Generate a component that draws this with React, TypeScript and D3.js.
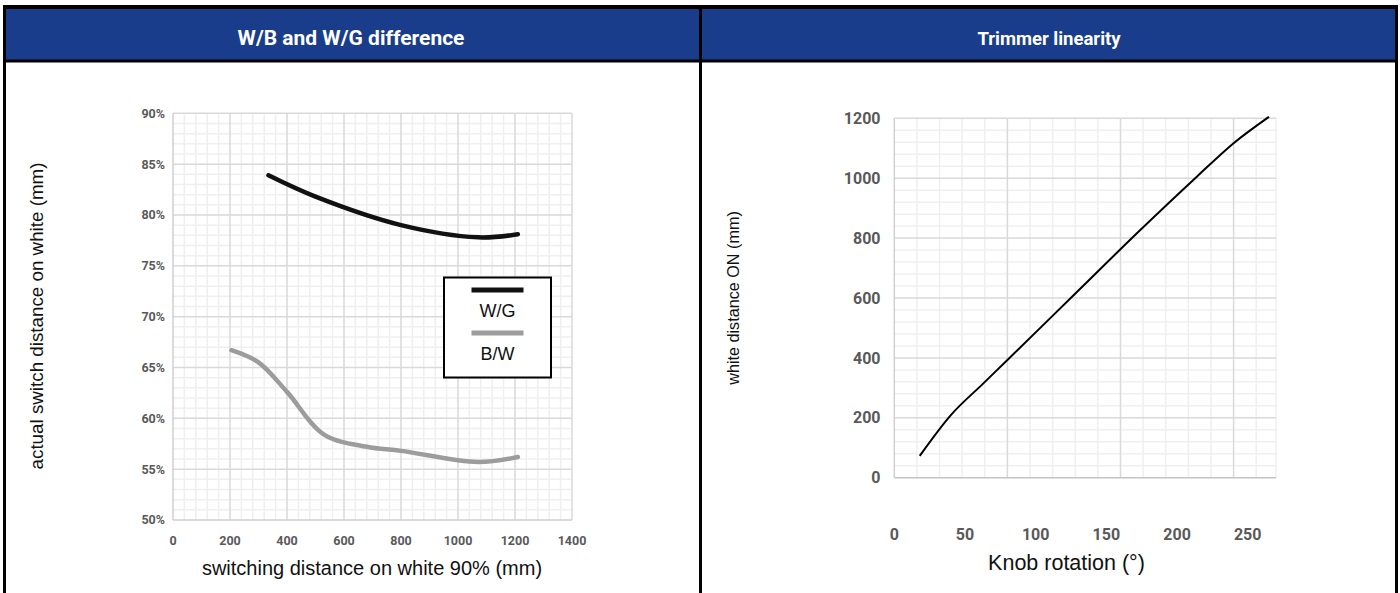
import React from "react";
import * as d3 from "d3";

// ---- Data ----
const leftTitle = "W/B and W/G difference";
const rightTitle = "Trimmer linearity";

const wgX = [335, 500, 800, 1070, 1210];
const wgY = [83.9, 81.8, 79.0, 77.8, 78.1];

const bwX = [205, 300, 400, 530, 680, 800, 1070, 1210];
const bwY = [66.7, 65.5, 62.6, 58.4, 57.2, 56.8, 55.7, 56.2];

const leftXTicks = [0, 200, 400, 600, 800, 1000, 1200, 1400];
const leftYTicks = [50, 55, 60, 65, 70, 75, 80, 85, 90];

const knob = [18, 40, 63, 80, 127, 174, 214, 240, 265];
const dist = [73, 209, 315, 393, 610, 827, 1005, 1117, 1205];

const rightXTicks = [0, 50, 100, 150, 200, 250];
const rightYTicks = [0, 200, 400, 600, 800, 1000, 1200];

const legendItems = [
  { label: "W/G", color: "#111111" },
  { label: "B/W", color: "#9c9c9c" },
];

const BLUE = "#193d8b";
const TICK = "#595959";
const MAJOR = "#d9d9d9";
const MINOR = "#efefef";
const tickFont = "Roboto, 'DejaVu Sans Condensed', sans-serif";
const labelFont = "'Liberation Sans', Arial, sans-serif";

export default function App() {
  const xL = d3.scaleLinear().domain([0, 1400]).range([173, 572]);
  const yL = d3.scaleLinear().domain([50, 90]).range([520, 113.3]);
  const xR = d3.scaleLinear().domain([0, 270]).range([894.3, 1276]);
  const yR = d3.scaleLinear().domain([0, 1200]).range([477.7, 118.3]);

  const lineL = d3
    .line<[number, number]>()
    .x((d) => xL(d[0]))
    .y((d) => yL(d[1]))
    .curve(d3.curveCatmullRom.alpha(0.5));
  const lineR = d3
    .line<[number, number]>()
    .x((d) => xR(d[0]))
    .y((d) => yR(d[1]))
    .curve(d3.curveMonotoneX);

  const wgPts = wgX.map((x, i) => [x, wgY[i]] as [number, number]);
  const bwPts = bwX.map((x, i) => [x, bwY[i]] as [number, number]);
  const kPts = knob.map((x, i) => [x, dist[i]] as [number, number]);

  const lxMinor = d3.range(0, 1400.1, 40).filter((v) => v % 200 !== 0);
  const lxMajor = d3.range(200, 1400.1, 200);
  const lyMinor = d3.range(50, 90.1, 1).filter((v) => v % 5 !== 0);
  const lyMajor = d3.range(55, 90.1, 5);

  const rxMinor = d3.range(16, 270, 16).filter((v) => v % 80 !== 0).concat([270]);
  const rxMajor = [80, 160, 240];
  const ryMinor = d3.range(40, 1200, 40).filter((v) => v % 200 !== 0);
  const ryMajor = d3.range(200, 1200.1, 200);

  return (
    <svg
      width={1400}
      height={593}
      style={{ position: "absolute", left: 0, top: 0, background: "#fff" }}
    >
      <rect x={0} y={0} width={1400} height={593} fill="#fff" />
      <rect x={3} y={5} width={1395} height={57.5} fill="#000" />
      <rect x={6} y={9} width={693} height={50.5} fill={BLUE} />
      <rect x={702} y={9} width={693} height={50.5} fill={BLUE} />
      <rect x={3} y={5} width={3} height={588} fill="#000" />
      <rect x={699} y={5} width={3} height={588} fill="#000" />
      <rect x={1395} y={5} width={3} height={588} fill="#000" />

      <text x={351} y={45} textAnchor="middle" fill="#fff" fontFamily={tickFont} fontWeight={700} fontSize={21}>
        {leftTitle}
      </text>
      <text x={1049} y={45} textAnchor="middle" fill="#fff" fontFamily={tickFont} fontWeight={700} fontSize={18.5}>
        {rightTitle}
      </text>

      {/* ---------- Left chart ---------- */}
      <g>
        {lxMinor.map((v) => (
          <line key={"lxm" + v} x1={xL(v)} x2={xL(v)} y1={yL(90)} y2={yL(50)} stroke={MINOR} strokeWidth={1.5} />
        ))}
        {lyMinor.map((v) => (
          <line key={"lym" + v} x1={xL(0)} x2={xL(1400)} y1={yL(v)} y2={yL(v)} stroke={MINOR} strokeWidth={1.5} />
        ))}
        {lxMajor.map((v) => (
          <line key={"lxM" + v} x1={xL(v)} x2={xL(v)} y1={yL(90)} y2={yL(50)} stroke={MAJOR} strokeWidth={1.5} />
        ))}
        {lyMajor.map((v) => (
          <line key={"lyM" + v} x1={xL(0)} x2={xL(1400)} y1={yL(v)} y2={yL(v)} stroke={MAJOR} strokeWidth={1.5} />
        ))}
        <line x1={xL(0)} x2={xL(0)} y1={yL(90)} y2={yL(50)} stroke="#cfcfcf" strokeWidth={1.5} />
        <line x1={xL(0)} x2={xL(1400)} y1={yL(50)} y2={yL(50)} stroke="#cfcfcf" strokeWidth={1.5} />

        {leftYTicks.map((v) => (
          <text key={"lyt" + v} x={165} y={yL(v)} dy="0.35em" textAnchor="end" fill={TICK}
            fontFamily={tickFont} fontWeight={700} fontSize={12.5}>
            {v + "%"}
          </text>
        ))}
        {leftXTicks.map((v) => (
          <text key={"lxt" + v} x={xL(v)} y={541} dy="0.35em" textAnchor="middle" fill={TICK}
            fontFamily={tickFont} fontWeight={700} fontSize={12.5}>
            {v}
          </text>
        ))}

        <path d={lineL(bwPts) || ""} fill="none" stroke="#9c9c9c" strokeWidth={4.5} strokeLinecap="round" />
        <path d={lineL(wgPts) || ""} fill="none" stroke="#111" strokeWidth={4.5} strokeLinecap="round" />

        <rect x={444} y={277.5} width={107} height={100} fill="#fff" stroke="#000" strokeWidth={2} />
        {legendItems.map((it, i) => (
          <g key={it.label}>
            <line x1={471.5} x2={523.5} y1={290 + i * 43} y2={290 + i * 43} stroke={it.color} strokeWidth={5} />
            <text x={497.5} y={316.5 + i * 43} textAnchor="middle" fill="#111" fontFamily={labelFont} fontSize={18}>
              {it.label}
            </text>
          </g>
        ))}

        <text x={372} y={575} textAnchor="middle" fill="#111" fontFamily={labelFont} fontSize={20}>
          switching distance on white 90% (mm)
        </text>
        <text transform="translate(43,316) rotate(-90)" textAnchor="middle" fill="#111" fontFamily={labelFont} fontSize={18.8}>
          actual switch distance on white (mm)
        </text>
      </g>

      {/* ---------- Right chart ---------- */}
      <g>
        {rxMinor.map((v) => (
          <line key={"rxm" + v} x1={xR(v)} x2={xR(v)} y1={yR(1200)} y2={yR(0)} stroke={MINOR} strokeWidth={1.5} />
        ))}
        {ryMinor.map((v) => (
          <line key={"rym" + v} x1={xR(0)} x2={xR(270)} y1={yR(v)} y2={yR(v)} stroke={MINOR} strokeWidth={1.5} />
        ))}
        {rxMajor.map((v) => (
          <line key={"rxM" + v} x1={xR(v)} x2={xR(v)} y1={yR(1200)} y2={yR(0)} stroke={MAJOR} strokeWidth={1.5} />
        ))}
        {ryMajor.map((v) => (
          <line key={"ryM" + v} x1={xR(0)} x2={xR(270)} y1={yR(v)} y2={yR(v)} stroke={MAJOR} strokeWidth={1.5} />
        ))}
        <line x1={xR(0)} x2={xR(0)} y1={yR(1200)} y2={yR(0)} stroke="#d0d0d0" strokeWidth={1.5} />
        <line x1={xR(0)} x2={xR(270)} y1={yR(0)} y2={yR(0)} stroke="#c4c4c4" strokeWidth={1.5} />

        {rightYTicks.map((v) => (
          <text key={"ryt" + v} x={880.5} y={yR(v)} dy="0.35em" textAnchor="end" fill={TICK}
            fontFamily={tickFont} fontWeight={700} fontSize={16}>
            {v}
          </text>
        ))}
        {rightXTicks.map((v) => (
          <text key={"rxt" + v} x={xR(v)} y={534} dy="0.35em" textAnchor="middle" fill={TICK}
            fontFamily={tickFont} fontWeight={700} fontSize={16}>
            {v}
          </text>
        ))}

        <path d={lineR(kPts) || ""} fill="none" stroke="#000" strokeWidth={2} />

        <text x={1066.5} y={570} textAnchor="middle" fill="#111" fontFamily={labelFont} fontSize={21.5}>
          Knob rotation (°)
        </text>
        <text transform="translate(739,298) rotate(-90)" textAnchor="middle" fill="#111" fontFamily={labelFont} fontSize={16.2}>
          white distance ON (mm)
        </text>
      </g>
    </svg>
  );
}
